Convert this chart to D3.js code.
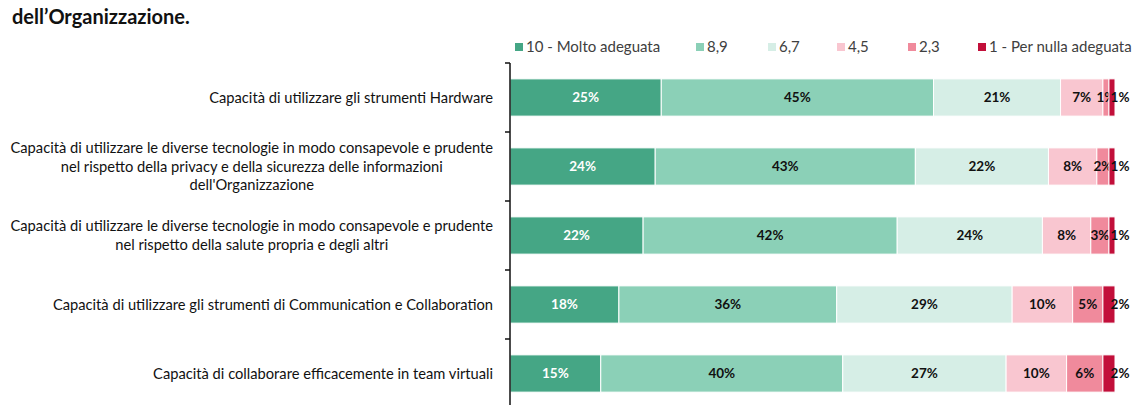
<!DOCTYPE html>
<meta charset="utf-8">
<head>
<style>
body { margin: 0; background: #fff; }
svg text { font-family: Lato, "Open Sans", sans-serif; }
.title { font-size: 20px; font-weight: 700; fill: #111; }
.cat { font-size: 14.7px; fill: #111; }
.val { font-size: 13.5px; font-weight: 700; text-anchor: middle; }
.leg { font-size: 15px; fill: #404040; }
</style>
</head>
<body>
<svg width="1143" height="405"></svg>
<script src="https://d3js.org/d3.v7.min.js"></script>
<script>

// categories (one array of lines per bar)
var categories = [
  ["Capacità di utilizzare gli strumenti Hardware"],
  ["Capacità di utilizzare le diverse tecnologie in modo consapevole e prudente",
   "nel rispetto della privacy e della sicurezza delle informazioni",
   "dell'Organizzazione"],
  ["Capacità di utilizzare le diverse tecnologie in modo consapevole e prudente",
   "nel rispetto della salute propria e degli altri"],
  ["Capacità di utilizzare gli strumenti di Communication e Collaboration"],
  ["Capacità di collaborare efficacemente in team virtuali"]
];

var seriesNames = ["10 - Molto adeguata", "8,9", "6,7", "4,5", "2,3", "1 - Per nulla adeguata"];
var seriesColors = ["#45a685", "#8bd0b7", "#d6eee6", "#f9c6d0", "#f08a9c", "#c20f3a"];

// values in %
var s10 = [25, 24, 22, 18, 15];
var s89 = [45, 43, 42, 36, 40];
var s67 = [21, 22, 24, 29, 27];
var s45 = [7, 8, 8, 10, 10];
var s23 = [1, 2, 3, 5, 6];
var s1  = [1, 1, 1, 2, 2];

var legendX = [515, 696, 768, 837, 908, 978];

var svg = d3.select("svg");

svg.append("text").attr("class", "title")
  .attr("x", 12).attr("y", 24)
  .text("dell\u2019Organizzazione.");

// build table for the stack
var allSeries = [s10, s89, s67, s45, s23, s1];
var table = categories.map(function(c, i) {
  var row = { idx: i };
  seriesNames.forEach(function(n, j) { row[n] = allSeries[j][i]; });
  return row;
});

var stacked = d3.stack().keys(seriesNames)(table);

var x = d3.scaleLinear().domain([0, 100]).range([510, 1115]);
var y = d3.scaleBand().domain(d3.range(categories.length)).range([63, 408]).paddingInner(0.46).paddingOuter(0.23);

// bars
var layer = svg.append("g").selectAll("g")
  .data(stacked)
  .enter().append("g")
    .attr("fill", function(d, i) { return seriesColors[i]; });

layer.selectAll("rect")
  .data(function(d) { return d; })
  .enter().append("rect")
    .attr("x", function(d) { return x(d[0]); })
    .attr("y", function(d) { return y(d.data.idx); })
    .attr("width", function(d) { return x(d[1]) - x(d[0]); })
    .attr("height", y.bandwidth())
    .attr("stroke", "#fff")
    .attr("stroke-width", 1);

// value labels (last series sits outside the bar, to the right)
layer.each(function(s, si) {
  var last = si === seriesNames.length - 1;
  d3.select(this).selectAll("text")
    .data(s)
    .enter().append("text")
      .attr("class", "val")
      .attr("x", function(d) { return last ? x(d[1]) + 5 : (x(d[0]) + x(d[1])) / 2; })
      .attr("y", function(d) { return y(d.data.idx) + y.bandwidth() / 2; })
      .attr("dy", "0.35em")
      .attr("text-anchor", last ? "start" : "middle")
      .attr("fill", si === 0 ? "#fff" : "#111")
      .text(function(d) { return (d[1] - d[0]) + "%"; });
});

// axis with ticks between the bands
var axis = svg.append("g");
axis.append("line")
  .attr("x1", 510).attr("x2", 510)
  .attr("y1", y.range()[0]).attr("y2", 405)
  .attr("stroke", "#111").attr("stroke-width", 1.5);
var step = y.step();
axis.selectAll(".tk")
  .data(d3.range(categories.length))
  .enter().append("line")
    .attr("x1", 505).attr("x2", 510)
    .attr("y1", function(d) { return y.range()[0] + d * step; })
    .attr("y2", function(d) { return y.range()[0] + d * step; })
    .attr("stroke", "#111").attr("stroke-width", 1.5);

// category labels: block right-aligned, lines centred within the block
var lineH = 18.5;
categories.forEach(function(lines, i) {
  var g = svg.append("g");
  var cy = y(i) + y.bandwidth() / 2;
  var texts = lines.map(function(l, k) {
    return g.append("text").attr("class", "cat")
      .attr("y", cy + (k - (lines.length - 1) / 2) * lineH)
      .attr("dy", "0.35em")
      .attr("text-anchor", "middle")
      .text(l);
  });
  var maxW = d3.max(texts, function(t) { return t.node().getComputedTextLength(); });
  texts.forEach(function(t) { t.attr("x", 493 - maxW / 2); });
});

// legend
var leg = svg.append("g").selectAll("g")
  .data(seriesNames)
  .enter().append("g")
    .attr("transform", function(d, i) { return "translate(" + legendX[i] + ",47)"; });
leg.append("rect")
  .attr("x", 0).attr("y", -4).attr("width", 8).attr("height", 8)
  .attr("fill", function(d, i) { return seriesColors[i]; });
leg.append("text").attr("class", "leg")
  .attr("x", 11).attr("dy", "0.35em")
  .text(function(d) { return d; });

</script>
</body>
